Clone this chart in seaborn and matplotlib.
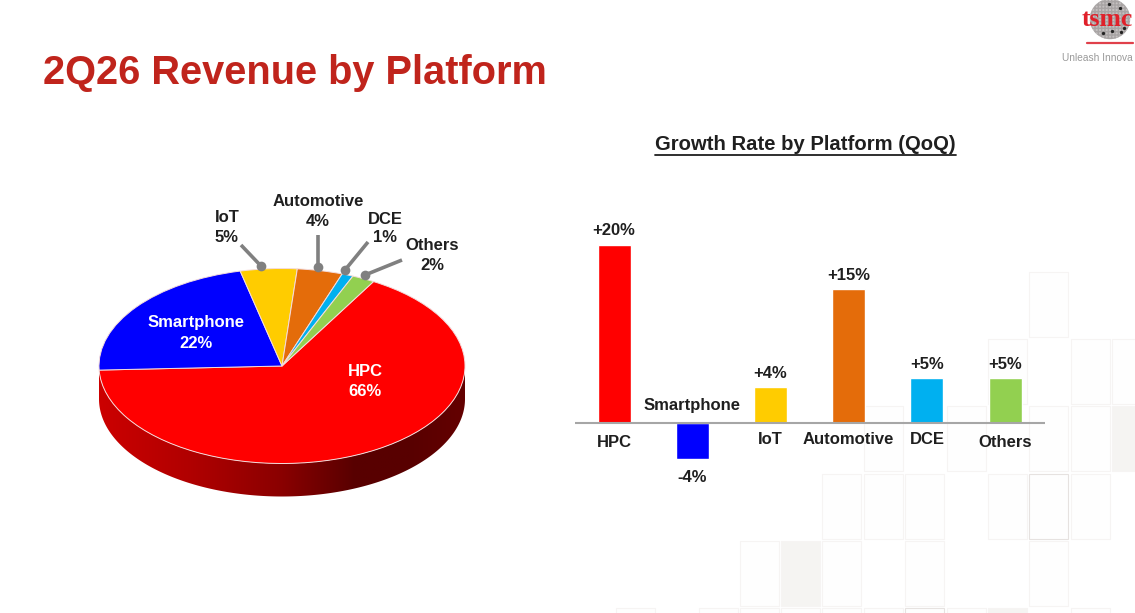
import matplotlib
matplotlib.use("Agg")
import matplotlib.pyplot as plt
import numpy as np
import pandas as pd
import seaborn as sns
from matplotlib.colors import LinearSegmentedColormap
from matplotlib.patches import Circle, Rectangle

# values
platforms = ["HPC", "Smartphone", "IoT", "Automotive", "DCE", "Others"]
revenue_share = [66, 22, 5, 4, 1, 2]
growth_qoq = [20, -4, 4, 15, 5, 5]
platform_colors = ["#ff0000", "#0000ff", "#ffcc00", "#e46c0a", "#00b0f0", "#92d050"]

W, H = 1135, 613
TITLE_RED = "#c0241c"
TEXT = "#1f1f1f"
GREY_LINE = "#808080"

sns.set_theme(style="white")
plt.rcParams["font.family"] = ["Liberation Sans", "DejaVu Sans"]

fig = plt.figure(figsize=(W / 100, H / 100), dpi=100, facecolor="white")


def px_axes(left, top, right, bottom, zorder):
    ax = fig.add_axes([left / W, 1 - bottom / H, (right - left) / W, (bottom - top) / H], zorder=zorder)
    ax.patch.set_visible(False)
    return ax


# background tiles, pixel overlay
bg = px_axes(0, 0, W, H, 0)
bg.set_xlim(0, W)
bg.set_ylim(H, 0)
bg.axis("off")
tile_cols = [616, 657, 699, 740, 781, 822, 864, 905, 947, 988, 1029, 1071, 1112]
tile_rows = [272, 339, 406, 474, 541, 608]
tiles = [
    (0, 10),
    (1, 9), (1, 11), (1, 12),
    (2, 6), (2, 8), (2, 10), (2, 11), (2, 12),
    (3, 5), (3, 6), (3, 7), (3, 9), (3, 10), (3, 11),
    (4, 3), (4, 4), (4, 5), (4, 7), (4, 10),
    (5, 0), (5, 2), (5, 3), (5, 4), (5, 5), (5, 6), (5, 7), (5, 8), (5, 9), (5, 11),
]
filled_tiles = [(2, 12), (4, 4), (5, 9)]
dark_tiles = [(3, 10), (5, 7)]
for r, c in tiles:
    face = "#f5f4f2" if (r, c) in filled_tiles else "#fefefe"
    edge = "#e6e2e0" if (r, c) in dark_tiles else "#f6f4f3"
    bg.add_patch(Rectangle((tile_cols[c], tile_rows[r]), 39, 65, facecolor=face, edgecolor=edge, lw=0.8))

# pie, squashed to an ellipse by the axes box
cx, cy, rx, ry = 282, 366, 183, 97.5
depth = 33 / ry
pie_ax = px_axes(cx - 1.3 * rx, cy - 1.2 * ry, cx + 1.3 * rx, cy + 1.5 * ry, 2)
pie_ax.pie(
    revenue_share,
    colors=platform_colors,
    startangle=60,
    counterclock=False,
    radius=1,
    wedgeprops={"edgecolor": "#f4dcdc", "linewidth": 0.7, "zorder": 3},
)
pie_ax.set_aspect("auto")

# side wall of the disc
t = np.linspace(np.pi, 2 * np.pi, 200)
wall_x = np.r_[np.cos(t), np.cos(t)[::-1]]
wall_y = np.r_[np.sin(t) - depth, np.sin(t)[::-1]]
wall = pie_ax.fill(wall_x, wall_y, color="none", zorder=1)[0]
wall_cmap = LinearSegmentedColormap.from_list(
    "wall",
    [(0, "#cc0000"), (0.25, "#b00000"), (0.5, "#8a0000"), (0.7, "#580000"), (0.85, "#580000"), (1, "#640000")],
)
img = pie_ax.imshow(
    np.linspace(0, 1, 256)[None, :],
    cmap=wall_cmap,
    extent=(-1, 1, -1.4, 0.1),
    aspect="auto",
    zorder=2,
)
img.set_clip_path(wall)
pie_ax.set_xlim(-1.3, 1.3)
pie_ax.set_ylim(-1.5, 1.2)

# growth bars
bar_ax = px_axes(575, 220.5, 1045, 489.75, 2)
df = pd.DataFrame({"platform": platforms, "growth": growth_qoq})
sns.barplot(
    data=df,
    x="platform",
    y="growth",
    hue="platform",
    palette=platform_colors,
    width=0.42,
    saturation=1,
    legend=False,
    ax=bar_ax,
)
bar_ax.set_xlim(-0.5, 5.51)
bar_ax.set_ylim(-7.5, 22.75)
bar_ax.axis("off")
bar_ax.axhline(0, color="#a6a6a6", lw=1.5, zorder=5)

bar_font = {"fontsize": 12, "fontweight": "bold", "color": TEXT, "ha": "center", "va": "center"}
name_offsets = [-19.5, 17.5, -17, -17, -17, -19.5]
for i, (name, val) in enumerate(zip(platforms, growth_qoq)):
    off = 14 if val > 0 else -19
    bar_ax.annotate(f"{val:+d}%", (i, val), xytext=(0, off * 0.72), textcoords="offset points", **bar_font)
    bar_ax.annotate(name, (i, 0), xytext=(0, name_offsets[i] * 0.72), textcoords="offset points", **bar_font)

# slide furniture and pie labels, pixel overlay
top = px_axes(0, 0, W, H, 3)
top.set_xlim(0, W)
top.set_ylim(H, 0)
top.axis("off")

top.text(43, 73.5, "2Q26 Revenue by Platform", fontsize=28.6, fontweight="bold", color=TITLE_RED, va="center", ha="left")
top.text(805.5, 145, "Growth Rate by Platform (QoQ)", fontsize=14.6, fontweight="bold", color=TEXT, va="center", ha="center")
top.plot([655, 956], [155, 155], color=TEXT, lw=1.3)

leaders = [
    ((241, 245), (261, 266)),
    ((318, 235), (318, 267)),
    ((368, 242), (345, 270)),
    ((402, 260), (365, 275)),
]
for start, end in leaders:
    top.plot([start[0], end[0]], [start[1], end[1]], color=GREY_LINE, lw=2.6, solid_capstyle="butt")
    top.plot(*end, "o", color=GREY_LINE, ms=7, mew=0)

pie_labels = [
    ("HPC", "white", 365, 371, 391),
    ("Smartphone", "white", 196, 323, 343),
    ("IoT", TEXT, 227, 218, 238),
    ("Automotive", TEXT, 318, 202, 222),
    ("DCE", TEXT, 385, 219, 238),
    ("Others", TEXT, 432, 246, 266),
]
for (name, col, x, y1, y2), share in zip(pie_labels, revenue_share):
    top.text(x, y1, name, fontsize=12, fontweight="bold", color=col, ha="center", va="center")
    top.text(x, y2, f"{share}%", fontsize=12, fontweight="bold", color=col, ha="center", va="center")

# tsmc logo
logo = Circle((1110, 19), 20, facecolor="#c4c0c0", edgecolor="#a8a4a4", hatch="+++++", lw=0.3)
top.add_patch(logo)
for x, y in [(1109, 4), (1120, 8), (1103, 33), (1112, 31), (1121, 32), (1124, 28)]:
    top.plot(x, y, "o", color="#222222", ms=2.4, mew=0)
top.text(1082, 20, "tsmc", fontsize=18.5, fontweight="bold", color="#e0202a", family="Liberation Serif", va="center", ha="left")
top.plot([1087, 1133], [43, 43], color="#e0404a", lw=1.6)
top.text(1062, 58, "Unleash Innova", fontsize=7.3, color="#9a9a9a", va="center", ha="left")

fig.savefig("out.png", dpi=100)
